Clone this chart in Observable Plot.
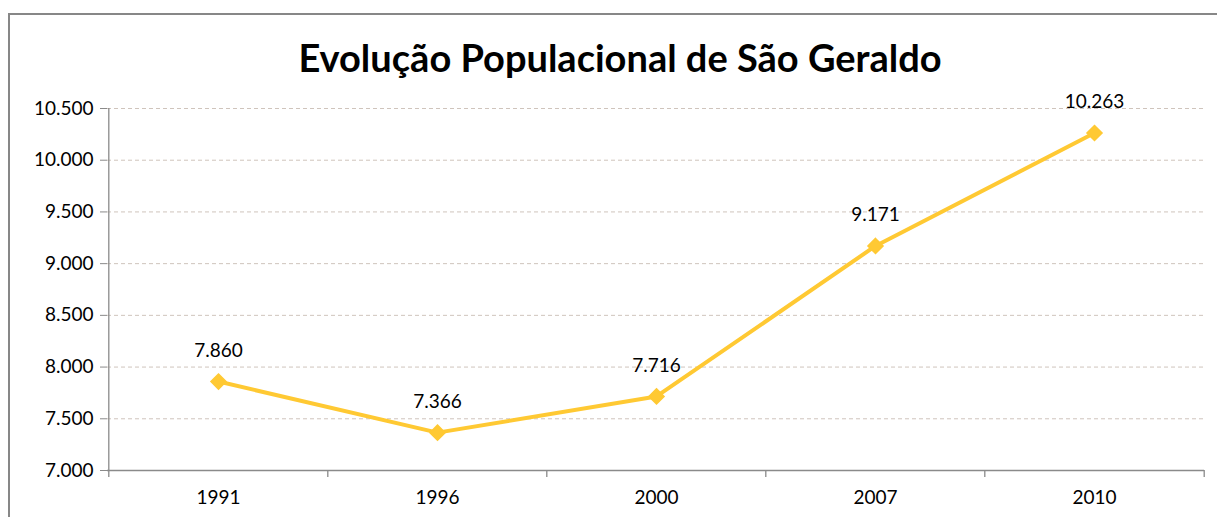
<!DOCTYPE html>
<html>
<head>
<meta charset="utf-8">
<script src="https://cdn.jsdelivr.net/npm/d3@7"></script>
<script src="https://cdn.jsdelivr.net/npm/@observablehq/plot@0.6"></script>
<style>
  html, body { margin: 0; padding: 0; background: #fff; overflow: hidden; }
  #wrap { position: relative; width: 1217px; height: 517px; overflow: hidden; font-family: Lato, "Liberation Sans", sans-serif; }
  #frame { position: absolute; left: 8px; top: 13px; width: 1400px; height: 700px; border: 2px solid #878787; box-sizing: border-box; }
  #title { position: absolute; left: 0; width: 1240px; top: 33px; text-align: center; font-weight: bold; font-size: 38px; color: #000; line-height: 48px; }
  #chart { position: absolute; left: 0; top: 0; }
</style>
</head>
<body>
<div id="wrap">
  <div id="frame"></div>
  <div id="title">Evolução Populacional de São Geraldo</div>
  <div id="chart"></div>
</div>
<script>
const years = ["1991", "1996", "2000", "2007", "2010"];
const population = [7860, 7366, 7716, 9171, 10263];
const yTicks = [7000, 7500, 8000, 8500, 9000, 9500, 10000, 10500];

const ptBR = d3.formatLocale({decimal: ",", thousands: ".", grouping: [3], currency: ["R$", ""]});
const fmt = ptBR.format(",d");

const data = years.map((y, i) => ({year: y, value: population[i]}));

const W = 1217, H = 517;
const mL = 107, mR = 13, mT = 108, mB = 47;
const step = (W - mL - mR) / years.length;
const lineColor = "#FFC933";
const axisColor = "#8a8a8a";

const chart = Plot.plot({
  width: W,
  height: H,
  marginLeft: mL,
  marginRight: mR,
  marginTop: mT,
  marginBottom: mB,
  style: {fontFamily: "Lato, 'Liberation Sans', sans-serif", background: "transparent", color: "#000"},
  x: {type: "point", domain: years, padding: 0.5, label: null},
  y: {domain: [7000, 10500], label: null},
  marks: [
    Plot.ruleY(yTicks.filter(t => t > 7000), {stroke: "#cfc4bc", strokeDasharray: "4,3", strokeWidth: 1}),
    Plot.ruleY([7000], {stroke: axisColor, strokeWidth: 1.3}),
    Plot.ruleX([years[0]], {y1: 7000, y2: 10500, dx: -step / 2, stroke: axisColor, strokeWidth: 1.3}),
    Plot.ruleX(years, {y1: 7000, y2: 7000, dx: -step / 2, insetBottom: -7, stroke: axisColor, strokeWidth: 1.3}),
    Plot.ruleX([years[years.length - 1]], {y1: 7000, y2: 7000, dx: step / 2, insetBottom: -7, stroke: axisColor, strokeWidth: 1.3}),
    Plot.axisY({ticks: yTicks, tickFormat: fmt, tickSize: 7, tickPadding: 7, stroke: axisColor, fontSize: 19, label: null, color: "#000"}),
    Plot.axisX({tickSize: 0, tickPadding: 20, fontSize: 19, label: null}),
    Plot.line(data, {x: "year", y: "value", stroke: lineColor, strokeWidth: 4}),
    Plot.dot(data, {x: "year", y: "value", symbol: "diamond2", r: 6.8, fill: lineColor, stroke: lineColor}),
    Plot.text(data, {x: "year", y: "value", text: d => fmt(d.value), dy: -31, fontSize: 19, fill: "#000", lineAnchor: "middle"})
  ]
});
document.getElementById("chart").appendChild(chart);
</script>
</body>
</html>
